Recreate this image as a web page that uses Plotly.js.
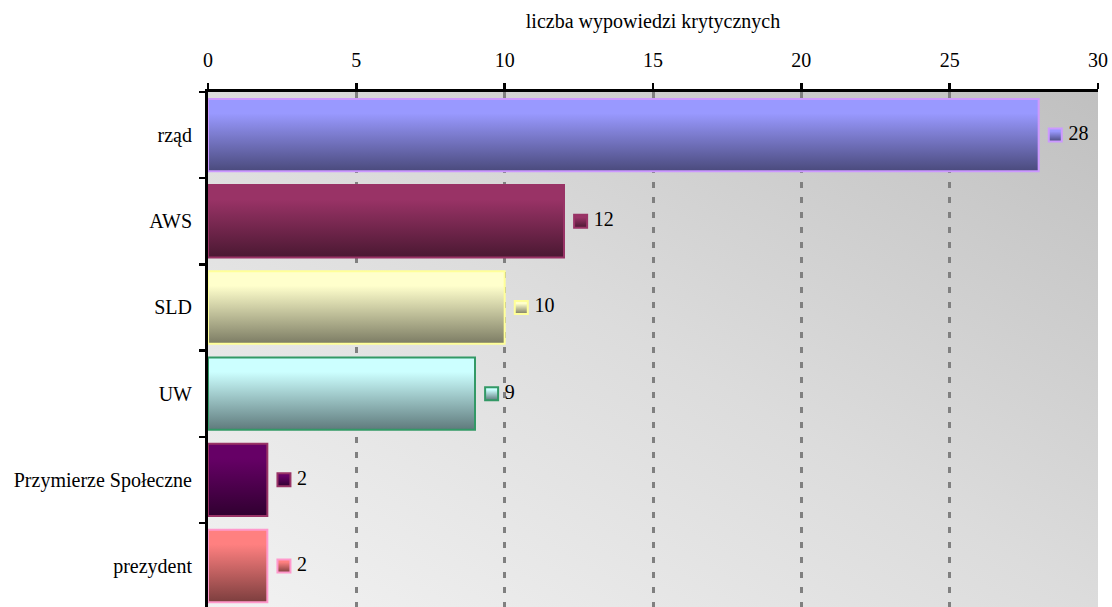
<!DOCTYPE html>
<html>
<head>
<meta charset="utf-8">
<script src="https://cdn.plot.ly/plotly-3.0.1.min.js"></script>
<style>
  body { margin: 0; background: #ffffff; }
  #chart { width: 1112px; height: 607px; }
</style>
</head>
<body>
<div id="chart"></div>
<script>
// kategorie i liczby wypowiedzi
const categories = ["rząd", "AWS", "SLD", "UW", "Przymierze Społeczne", "prezydent"];
const values = [28, 12, 10, 9, 2, 2];

// kolory: góra gradientu, dół gradientu, obramowanie
const topColors = ["#9999ff", "#993366", "#ffffcc", "#ccffff", "#660066", "#ff8080"];
const bottomColors = ["#4a4a7c", "#4a1832", "#7c7c64", "#5f7a7c", "#300030", "#7c3e3e"];
const borderColors = ["#cc99ff", "#993366", "#ffff99", "#339966", "#993366", "#ff99cc"];

const fontFamily = "Liberation Serif";

const bars = {
    type: 'bar',
    orientation: 'h',
    x: values,
    y: categories,
    marker: {
        color: topColors,
        line: { color: borderColors, width: 2 }
    },
    hoverinfo: 'x+y'
};

// kwadracik + wartość obok końca słupka
const labels = {
    type: 'scatter',
    mode: 'markers+text',
    x: values.map(v => v + 0.56),
    y: categories,
    text: values.map(v => '\u2009' + v),
    textposition: 'middle right',
    textfont: { family: fontFamily, size: 20, color: '#000000' },
    marker: {
        symbol: 'square',
        size: 13,
        color: topColors,
        line: { color: borderColors, width: 2 }
    },
    cliponaxis: false,
    hoverinfo: 'skip'
};

const layout = {
    width: 1112,
    height: 607,
    margin: { l: 208, r: 14, t: 92, b: 0 },
    paper_bgcolor: '#ffffff',
    plot_bgcolor: '#dddddd',
    showlegend: false,
    bargap: 0.16,
    font: { family: fontFamily, size: 20, color: '#000000' },
    xaxis: {
        side: 'top',
        range: [0, 30],
        tick0: 0,
        dtick: 5,
        ticks: 'outside',
        ticklen: 6,
        tickwidth: 2.5,
        tickcolor: '#000000',
        ticklabelstandoff: 8,
        showline: true,
        linecolor: '#000000',
        linewidth: 3,
        showgrid: true,
        gridcolor: '#808080',
        gridwidth: 3,
        griddash: '6px,9px',
        zeroline: false,
        tickfont: { family: fontFamily, size: 20 },
        title: { text: 'liczba wypowiedzi krytycznych', font: { family: fontFamily, size: 20 }, standoff: 16 },
        automargin: false,
        fixedrange: true
    },
    yaxis: {
        type: 'category',
        categoryorder: 'array',
        categoryarray: categories,
        range: [5.475, -0.5],
        ticks: 'outside',
        tickson: 'boundaries',
        ticklen: 6,
        tickwidth: 2.5,
        tickcolor: '#000000',
        ticklabelstandoff: 9,
        showline: true,
        linecolor: '#000000',
        linewidth: 3,
        showgrid: false,
        zeroline: false,
        tickfont: { family: fontFamily, size: 20 },
        automargin: false,
        fixedrange: true
    }
};

function addGradients(gd) {
    const svgNS = 'http://www.w3.org/2000/svg';
    const svg = gd.querySelector('svg.main-svg');
    let defs = svg.querySelector('defs');
    if (!defs) {
        defs = document.createElementNS(svgNS, 'defs');
        svg.insertBefore(defs, svg.firstChild);
    }

    function makeGrad(id, x1, y1, x2, y2, stops) {
        const g = document.createElementNS(svgNS, 'linearGradient');
        g.setAttribute('id', id);
        g.setAttribute('x1', x1); g.setAttribute('y1', y1);
        g.setAttribute('x2', x2); g.setAttribute('y2', y2);
        stops.forEach(s => {
            const st = document.createElementNS(svgNS, 'stop');
            st.setAttribute('offset', s[0]);
            st.setAttribute('stop-color', s[1]);
            g.appendChild(st);
        });
        defs.appendChild(g);
    }

    // tło wykresu: jasne w lewym dolnym rogu, ciemniejsze w prawym górnym
    makeGrad('bgGrad', 0, 1, 1, 0, [[0, '#f2f2f2'], [0.5, '#dcdcdc'], [1, '#c0c0c0']]);
    const bg = gd.querySelector('.bglayer rect.bg');
    if (bg) bg.style.fill = 'url(#bgGrad)';

    topColors.forEach((c, i) => {
        makeGrad('barGrad' + i, 0, 0, 0, 1, [[0, c], [0.2, c], [1, bottomColors[i]]]);
    });

    gd.querySelectorAll('.barlayer .point path').forEach((p, i) => {
        p.style.fill = 'url(#barGrad' + i + ')';
    });
    gd.querySelectorAll('.scatterlayer .point').forEach((p, i) => {
        p.style.fill = 'url(#barGrad' + i + ')';
    });
}

Plotly.newPlot('chart', [bars, labels], layout, { displayModeBar: false, staticPlot: true })
    .then(addGradients);
</script>
</body>
</html>
